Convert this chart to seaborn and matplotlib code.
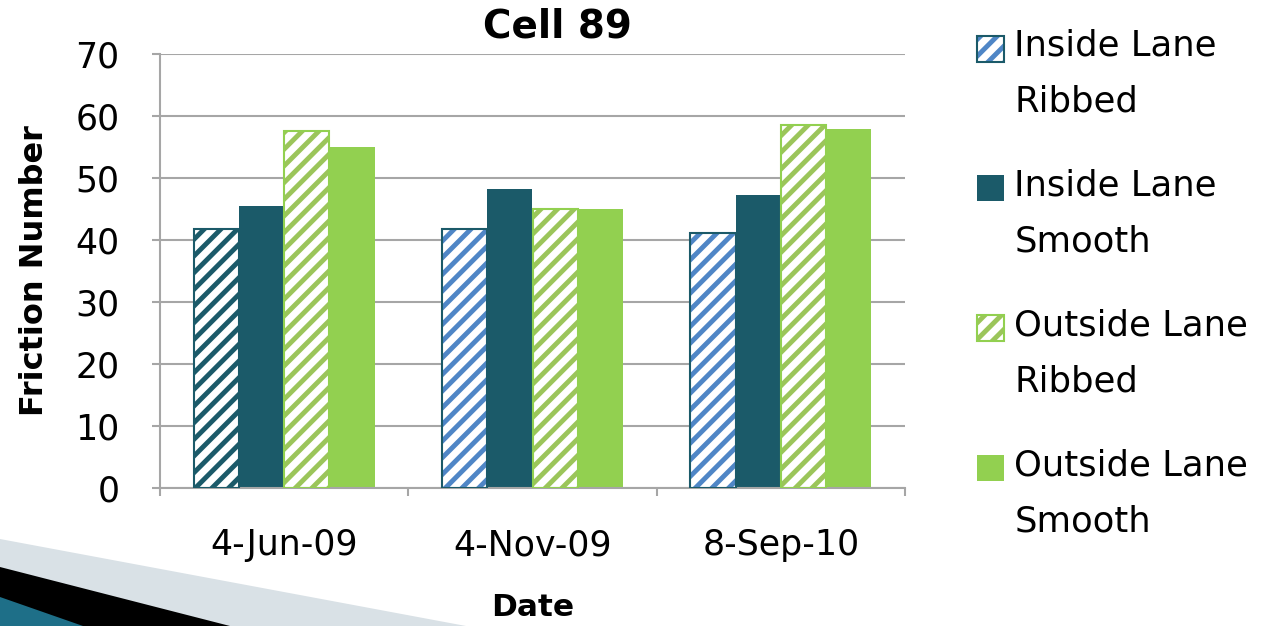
import matplotlib
matplotlib.use("Agg")
import matplotlib.pyplot as plt
import seaborn as sns
import pandas as pd
from matplotlib.patches import Rectangle, Polygon
from matplotlib.ticker import FixedLocator

# ---- data -------------------------------------------------------------
dates = ["4-Jun-09", "4-Nov-09", "8-Sep-10"]
series_names = ["Inside Lane\nRibbed", "Inside Lane\nSmooth",
                "Outside Lane\nRibbed", "Outside Lane\nSmooth"]
inside_ribbed = [41.7, 41.7, 41.2]
inside_smooth = [45.5, 48.3, 47.2]
outside_ribbed = [57.6, 45.0, 58.5]
outside_smooth = [55.0, 45.0, 57.9]
y_ticks = [0, 10, 20, 30, 40, 50, 60, 70]

# ---- colours ----------------------------------------------------------
TEAL = "#1B5A69"
BLUE = "#4F86C6"
GREEN = "#92D050"
GREEN_HATCH = "#9BC55A"
GRID = "#A6A6A6"

sns.set_style("white")
plt.rcParams["font.family"] = ["DejaVu Sans"]
plt.rcParams["hatch.linewidth"] = 3.5
plt.rcParams["text.color"] = "black"
plt.rcParams["axes.labelcolor"] = "black"
plt.rcParams["xtick.labelcolor"] = "black"
plt.rcParams["ytick.labelcolor"] = "black"

W, H = 1268, 626
fig = plt.figure(figsize=(W / 100, H / 100), dpi=100)


def fx(px):
    return px / W


def fy(py):
    return 1 - py / H


# slide decoration in the lower-left corner
for pts, col in [
    ([(0, 539), (466, 626), (0, 626)], "#D9E1E6"),
    ([(0, 567), (230, 626), (0, 626)], "#000000"),
    ([(0, 597), (83, 626), (0, 626)], "#1E6F88"),
]:
    fig.add_artist(Polygon([(fx(x), fy(y)) for x, y in pts], closed=True,
                           transform=fig.transFigure, facecolor=col,
                           edgecolor="none", zorder=0))

ax = fig.add_axes([fx(160), fy(488), fx(905 - 160), (488 - 54) / H])

df = pd.DataFrame({
    "Date": dates * 4,
    "Series": [s for s in series_names for _ in dates],
    "Friction": inside_ribbed + inside_smooth + outside_ribbed + outside_smooth,
})

sns.barplot(data=df, x="Date", y="Friction", hue="Series",
            order=dates, hue_order=series_names,
            palette=[TEAL, TEAL, GREEN, GREEN], saturation=1,
            width=0.73, gap=0, legend=False, ax=ax, zorder=2)

HATCH = "//"

# per-series styling: hatched "Ribbed" bars, solid "Smooth" bars
styles = [
    dict(hatch_colors=[TEAL, BLUE, BLUE], outline=TEAL),
    dict(face=TEAL),
    dict(hatch_colors=[GREEN_HATCH] * 3, outline=GREEN),
    dict(face=GREEN),
]
for cont, st in zip(ax.containers, styles):
    for i, bar in enumerate(cont):
        if "hatch_colors" in st:
            bar.set_facecolor("white")
            bar.set_edgecolor(st["hatch_colors"][i])
            bar.set_hatch(HATCH)
            bar.set_linewidth(0)
            ax.add_patch(Rectangle((bar.get_x(), bar.get_y()), bar.get_width(),
                                   bar.get_height(), fill=False,
                                   edgecolor=st["outline"], linewidth=1.5,
                                   zorder=3))
        else:
            bar.set_facecolor(st["face"])
            bar.set_edgecolor("none")
            bar.set_linewidth(0)

# ---- axes -------------------------------------------------------------
ax.set_xlim(-0.5, len(dates) - 0.5)
ax.set_ylim(0, 70)
ax.set_yticks(y_ticks)
ax.yaxis.grid(True, color=GRID, linewidth=1.5, zorder=0)
ax.set_axisbelow(True)
ax.xaxis.set_minor_locator(FixedLocator([i - 0.5 for i in range(len(dates) + 1)]))
ax.tick_params(axis="x", which="major", length=0, pad=29, labelsize=25,
               labelcolor="black")
ax.tick_params(axis="x", which="minor", length=6, width=1.5, color=GRID,
               direction="out", bottom=True)
ax.tick_params(axis="y", length=6, width=1.5, color=GRID, direction="out",
               left=True, pad=23, labelsize=25, labelcolor="black")
for side in ["top", "right"]:
    ax.spines[side].set_visible(False)
for side in ["left", "bottom"]:
    ax.spines[side].set_color(GRID)
    ax.spines[side].set_linewidth(1.5)

ax.set_xlabel("Date", fontsize=22.5, fontweight="bold", va="center")
ax.xaxis.set_label_coords(0.5, -(607 - 488) / (488 - 54))
ax.set_ylabel("Friction Number", fontsize=23, fontweight="bold", va="center")
ax.yaxis.set_label_coords(-(160 - 35) / (905 - 160), 0.5)

fig.text(fx(557), fy(26), "Cell 89", ha="center", va="center",
         fontsize=28, fontweight="bold")


# ---- legend -----------------------------------------------------------
class SquareHandle:
    """Small square key aligned with the first line of a two-line label."""

    def __init__(self, face, hatch_color=None, outline=None, lift=19):
        self.face = face
        self.hatch_color = hatch_color
        self.outline = outline
        self.lift = lift

    def legend_artist(self, legend, orig_handle, fontsize, handlebox):
        x0, y0 = -handlebox.xdescent, -handlebox.ydescent + self.lift
        w = handlebox.width
        h = handlebox.height
        if self.hatch_color is not None:
            r = Rectangle((x0, y0), w, h, facecolor="white",
                          edgecolor=self.hatch_color, hatch=HATCH, linewidth=0,
                          transform=handlebox.get_transform())
            handlebox.add_artist(r)
            o = Rectangle((x0, y0), w, h, fill=False, edgecolor=self.outline,
                          linewidth=1.5, transform=handlebox.get_transform())
            handlebox.add_artist(o)
            return r
        r = Rectangle((x0, y0), w, h, facecolor=self.face, edgecolor="none",
                      transform=handlebox.get_transform())
        handlebox.add_artist(r)
        return r


handles = [Rectangle((0, 0), 1, 1) for _ in series_names]
handlers = [
    SquareHandle("white", BLUE, TEAL),
    SquareHandle(TEAL),
    SquareHandle("white", GREEN_HATCH, GREEN),
    SquareHandle(GREEN),
]
leg = fig.legend(handles, series_names, loc="upper left",
                 bbox_to_anchor=(fx(977), fy(29)), frameon=False,
                 fontsize=25.5, borderpad=0, borderaxespad=0,
                 handlelength=0.75, handleheight=0.75, handletextpad=0.3,
                 labelspacing=1.42,
                 handler_map={h: hd for h, hd in zip(handles, handlers)})
for t in leg.get_texts():
    t.set_linespacing(1.8)
    t.set_color("black")

fig.savefig("out.png", dpi=100)
